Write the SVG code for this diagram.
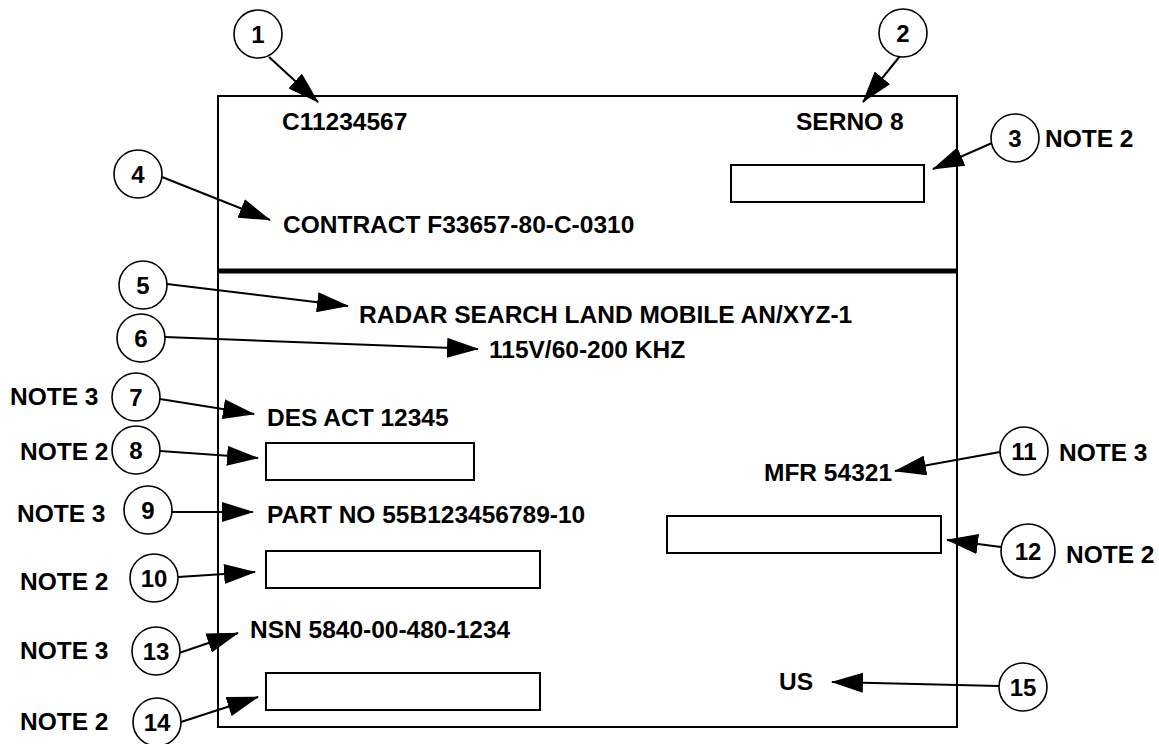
<svg xmlns="http://www.w3.org/2000/svg" width="1159" height="744" viewBox="0 0 1159 744">
<style>
text{font-family:"Liberation Sans",Arial,sans-serif;font-weight:bold;font-size:24.5px;fill:#000}
.num{text-anchor:middle;font-size:24px}
.c{fill:#fff;stroke:#000;stroke-width:1.6}
.box{fill:#fff;stroke:#000;stroke-width:2}
.ln{stroke:#000;stroke-width:2;fill:none;marker-end:url(#ah)}
</style>
<defs>
<marker id="ah" markerUnits="userSpaceOnUse" markerWidth="32" markerHeight="20" refX="31" refY="10" orient="auto">
<path d="M0,0 L32,10 L0,20 z" fill="#000"/>
</marker>
</defs>
<rect width="1159" height="744" fill="#fff"/>
<g id="frame">
<rect x="218" y="96" width="739" height="631" fill="none" stroke="#000" stroke-width="2"/>
<line x1="218" y1="271" x2="957" y2="271" stroke="#000" stroke-width="5"/>
</g>
<g id="plate-text">
<text x="282" y="130">C11234567</text>
<text x="796" y="130">SERNO 8</text>
<text x="283" y="233">CONTRACT F33657-80-C-0310</text>
<text x="359" y="323">RADAR SEARCH LAND MOBILE AN/XYZ-1</text>
<text x="489" y="358">115V/60-200 KHZ</text>
<text x="267" y="426">DES ACT 12345</text>
<text x="267" y="523">PART NO 55B123456789-10</text>
<text x="250" y="638">NSN 5840-00-480-1234</text>
<text x="764" y="481">MFR 54321</text>
<text x="779" y="690">US</text>
</g>
<g id="boxes">
<rect id="box3" class="box" x="731" y="165" width="193" height="37"/>
<rect id="box8" class="box" x="266" y="443" width="208" height="37"/>
<rect id="box10" class="box" x="266" y="551" width="274" height="37"/>
<rect id="box12" class="box" x="667" y="516" width="274" height="37"/>
<rect id="box14" class="box" x="266" y="673" width="274" height="37"/>
</g>
<g id="connectors">
<line class="ln" x1="269" y1="57" x2="318" y2="102"/>
<line class="ln" x1="900" y1="56" x2="863" y2="102"/>
<line class="ln" x1="992" y1="143" x2="933" y2="169"/>
<line class="ln" x1="162" y1="177" x2="270" y2="220"/>
<line class="ln" x1="167" y1="284" x2="348" y2="306"/>
<line class="ln" x1="165" y1="337" x2="478" y2="349"/>
<line class="ln" x1="160" y1="399" x2="254" y2="414"/>
<line class="ln" x1="160" y1="451" x2="258" y2="458"/>
<line class="ln" x1="172" y1="512" x2="253" y2="512"/>
<line class="ln" x1="178" y1="577" x2="255" y2="572"/>
<line class="ln" x1="1000" y1="452" x2="895" y2="471"/>
<line class="ln" x1="1001" y1="547" x2="947" y2="540"/>
<line class="ln" x1="179" y1="653" x2="238" y2="633"/>
<line class="ln" x1="181" y1="722" x2="258" y2="697"/>
<line class="ln" x1="999" y1="686" x2="832" y2="682"/>
</g>
<g id="n1"><circle class="c" cx="258" cy="34" r="24"/><text class="num" x="258" y="42.5">1</text></g>
<g id="n2"><circle class="c" cx="903" cy="33" r="24"/><text class="num" x="903" y="41.5">2</text></g>
<g id="n3"><circle class="c" cx="1015" cy="138" r="24"/><text class="num" x="1015" y="146.5">3</text><text x="1045" y="147">NOTE 2</text></g>
<g id="n4"><circle class="c" cx="138" cy="174" r="24"/><text class="num" x="138" y="182.5">4</text></g>
<g id="n5"><circle class="c" cx="143" cy="285" r="24"/><text class="num" x="143" y="293.5">5</text></g>
<g id="n6"><circle class="c" cx="141" cy="338" r="24"/><text class="num" x="141" y="346.5">6</text></g>
<g id="n7"><circle class="c" cx="136" cy="397" r="24"/><text class="num" x="136" y="405.5">7</text><text x="10" y="405">NOTE 3</text></g>
<g id="n8"><circle class="c" cx="136" cy="450" r="24"/><text class="num" x="136" y="458.5">8</text><text x="20" y="460">NOTE 2</text></g>
<g id="n9"><circle class="c" cx="148" cy="510" r="24"/><text class="num" x="148" y="518.5">9</text><text x="17" y="522">NOTE 3</text></g>
<g id="n10"><circle class="c" cx="154" cy="578" r="24"/><text class="num" x="154" y="586.5">10</text><text x="20" y="590">NOTE 2</text></g>
<g id="n11"><circle class="c" cx="1024" cy="451" r="24"/><text class="num" x="1024" y="459.5">11</text><text x="1059" y="461">NOTE 3</text></g>
<g id="n12"><circle class="c" cx="1028" cy="551" r="27"/><text class="num" x="1028" y="559.5">12</text><text x="1066" y="563">NOTE 2</text></g>
<g id="n13"><circle class="c" cx="156" cy="651" r="24"/><text class="num" x="156" y="659.5">13</text><text x="20" y="659">NOTE 3</text></g>
<g id="n14"><circle class="c" cx="157" cy="722" r="24"/><text class="num" x="157" y="730.5">14</text><text x="20" y="730">NOTE 2</text></g>
<g id="n15"><circle class="c" cx="1023" cy="687" r="24"/><text class="num" x="1023" y="695.5">15</text></g>
</svg>
